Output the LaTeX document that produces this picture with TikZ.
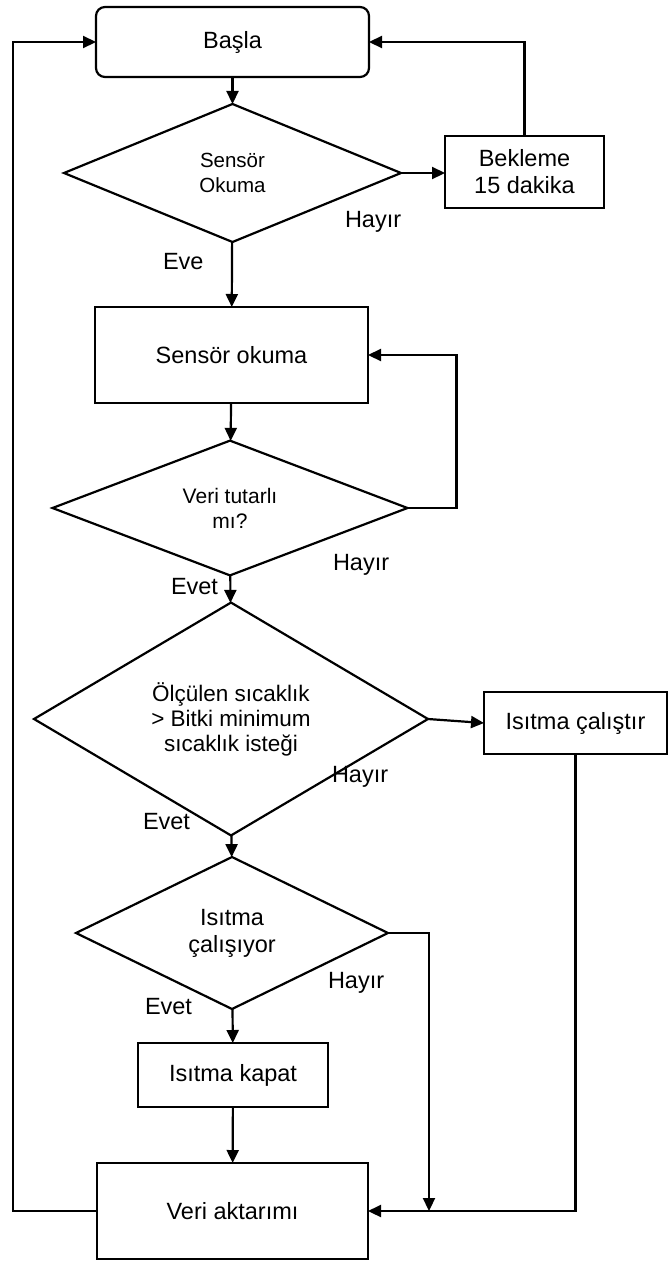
\documentclass[tikz,border=0pt]{standalone}
\usepackage{fontspec}
\setmainfont{Liberation Sans}
\usetikzlibrary{shapes.geometric,arrows.meta}
\begin{document}
\begin{tikzpicture}[x=1pt,y=-1pt,
  every node/.style={inner sep=0pt,outer sep=0pt},
  lw/.style={line width=2.2pt},
  boxnode/.style={draw,lw,rectangle,align=center,font=\fontsize{23.5}{27}\selectfont},
  dec/.style={draw,lw,diamond,align=center},
  lbl/.style={anchor=west,font=\fontsize{23.5}{27}\selectfont},
  arr/.style={lw,-{Triangle[length=13pt,width=12pt]}},
  ln/.style={lw}]
\useasboundingbox (0,0) rectangle (669,1261);

\node[boxnode,rounded corners=9pt,minimum width=273pt,minimum height=70pt] (start) at (232.5,42) {Başla};
\node[dec,minimum width=337pt,minimum height=138pt,font=\fontsize{20.5}{25}\selectfont] (d1) at (232.5,173) {Sensör\\Okuma};
\node[boxnode,minimum width=159pt,minimum height=72pt] (wait) at (524.5,172) {Bekleme\\15 dakika};
\node[boxnode,minimum width=273pt,minimum height=96pt] (read) at (231.5,355) {Sensör okuma};
\node[dec,minimum width=355pt,minimum height=133pt,font=\fontsize{21}{25}\selectfont] (d2) at (230,508) {Veri tutarlı\\mı?};
\node[dec,minimum width=394pt,minimum height=188pt,font=\fontsize{22.5}{25}\selectfont] (d3) at (231,719) {Ölçülen sıcaklık\\> Bitki minimum\\sıcaklık isteği};
\node[boxnode,minimum width=183pt,minimum height=62pt] (heat) at (575.5,723) {Isıtma çalıştır};
\node[dec,minimum width=312pt,minimum height=152pt,font=\fontsize{23.5}{27}\selectfont] (d4) at (232,933) {Isıtma\\çalışıyor};
\node[boxnode,minimum width=190pt,minimum height=64pt] (off) at (233,1075) {Isıtma kapat};
\node[boxnode,minimum width=271pt,minimum height=96pt] (data) at (232.5,1211) {Veri aktarımı};

\coordinate (c2) at (456.5,508);
\coordinate (c4) at (429,1211);
\coordinate (cl) at (13,1211);

\draw[arr] (start) -- (d1);
\draw[arr] (d1.east) -- (d1.east -| wait.west);
\draw[arr] (wait.north) |- (start.east);
\draw[arr] (d1) -- (read);
\draw[arr] (read) -- (d2);
\draw[arr] (d2.east) -- (c2) |- (read.east);
\draw[arr] (d2) -- (d3);
\draw[arr] (d3.east) -- (heat.west);
\draw[arr] (d3) -- (d4);
\draw[arr] (d4) -- (off);
\draw[arr] (off) -- (data);
\draw[arr] (d4.east) -| (c4);
\draw[arr] (heat.south) |- (data.east);
\draw[arr] (data.west) -- (cl) |- (start.west);

\node[lbl] (h1) at (345,222) {Hayır};
\node[lbl] (e1) at (163,262) {Eve};
\node[lbl] (h2) at (333,565) {Hayır};
\node[lbl] (e2) at (171,587) {Evet};
\node[lbl] (h3) at (332,777) {Hayır};
\node[lbl] (e3) at (143,822) {Evet};
\node[lbl] (h4) at (328,983) {Hayır};
\node[lbl] (e4) at (145,1007) {Evet};
\end{tikzpicture}
\end{document}
